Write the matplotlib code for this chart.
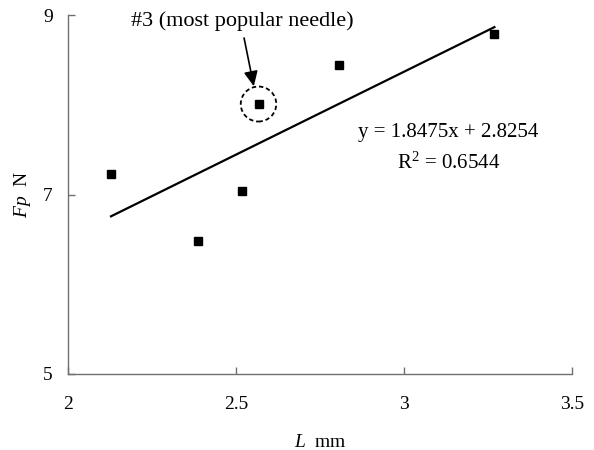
import numpy as np
import matplotlib
matplotlib.use("Agg")
import matplotlib.pyplot as plt
from matplotlib.patches import Ellipse

plt.rcParams['font.family'] = ['Liberation Serif', 'DejaVu Serif']
plt.rcParams['mathtext.fontset'] = 'custom'
plt.rcParams['mathtext.rm'] = 'Liberation Serif'
plt.rcParams['mathtext.it'] = 'Liberation Serif:italic'

# Data
L_mm = [2.128, 2.387, 2.517, 2.567, 2.806, 3.269]
Fp_N = [7.23, 6.485, 7.039, 8.008, 8.446, 8.79]
slope = 1.8475
intercept = 2.8254
r2 = 0.6544
highlight_index = 3
x_ticks = [2, 2.5, 3, 3.5]
x_ticklabels = ["2", "2.5", "3", "3.5"]
y_ticks = [5, 7, 9]
y_ticklabels = ["5", "7", "9"]

fig = plt.figure(figsize=(5.94, 4.5), dpi=100)
ax = fig.add_axes([68/594, 1-374/450, 504/594, 359/450])

ax.plot(L_mm, Fp_N, linestyle='none', marker='s', markersize=5.2, color='black')

xf = np.array([min(L_mm), max(L_mm)])
ax.plot(xf, slope*xf + intercept, color='black', lw=1.6)

ax.set_xlim(2, 3.5)
ax.set_ylim(5, 9)
ax.set_xticks(x_ticks)
ax.set_xticklabels(x_ticklabels)
ax.set_yticks(y_ticks)
ax.set_yticklabels(y_ticklabels)

for s in ['top', 'right']:
    ax.spines[s].set_visible(False)
for s in ['left', 'bottom']:
    ax.spines[s].set_color('#707070')
    ax.spines[s].set_linewidth(1.0)
ax.tick_params(axis='both', direction='in', length=5, width=1.0, color='#707070', labelsize=14)
ax.tick_params(axis='x', pad=16)
ax.tick_params(axis='y', pad=11)

ax.set_xlabel(r"$\mathit{L}$  mm", fontsize=14)
ax.set_ylabel(r"$\mathit{Fp}$  N", fontsize=14)
ax.xaxis.set_label_coords(0.5, -0.168)
ax.yaxis.set_label_coords(-0.07, 0.5)

# equation
ax.text(2.0 + (448-68)/336, 5 + (374-133)/89.75, f"y = {slope}x + {intercept}",
        ha='center', va='center', fontsize=15)
ax.text(2.0 + (449-68)/336, 5 + (374-163)/89.75, f"R$^2$ = {r2}",
        ha='center', va='center', fontsize=15)

# highlight
hx, hy = L_mm[highlight_index], Fp_N[highlight_index]
ax.add_patch(Ellipse((hx, hy), width=35.5/336, height=35/89.75, fill=False,
                     linestyle=(0, (2.4, 1.6)), lw=1.3, edgecolor='black'))
ax.text(2.52, 8.93, "#3 (most popular needle)", ha='center', va='center', fontsize=16,
        clip_on=False)
ax.annotate('', xy=(hx - 0.014, hy + 0.198), xytext=(hx - 0.043, hy + 0.736),
            arrowprops=dict(arrowstyle='-|>,head_length=0.75,head_width=0.35',
                            mutation_scale=12, color='black', lw=1.2,
                            shrinkA=0, shrinkB=0))

fig.savefig("out.png", dpi=100)
